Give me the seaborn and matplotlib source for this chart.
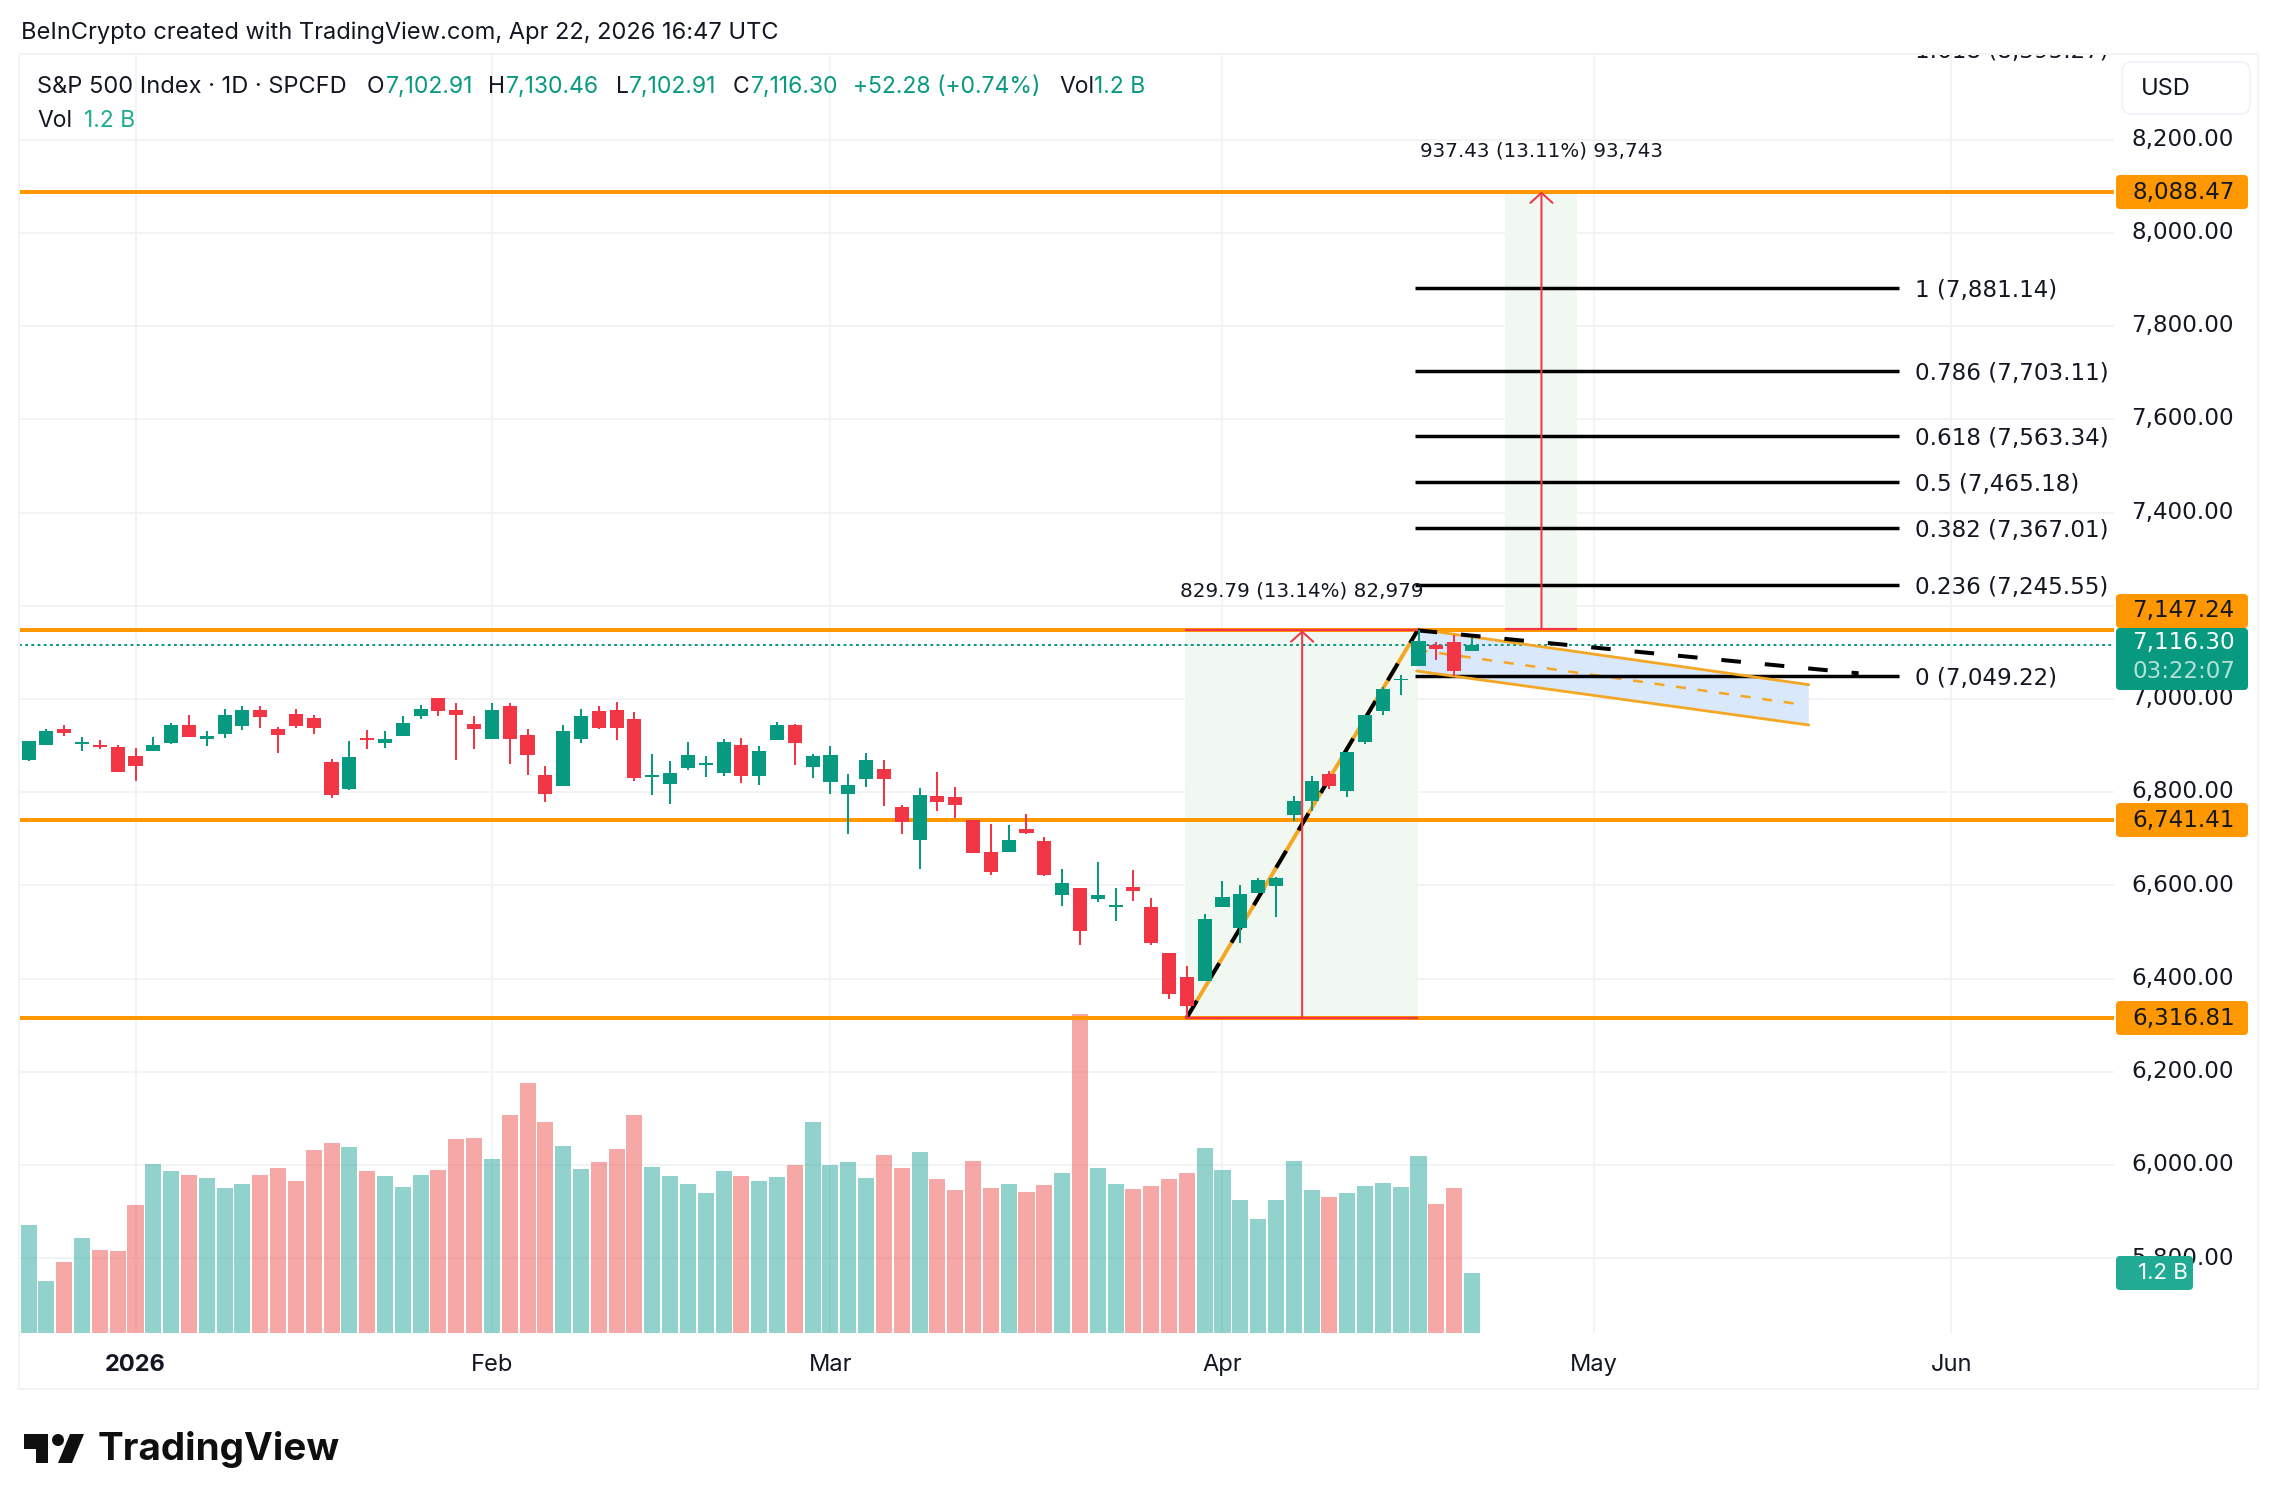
import pandas as pd
import seaborn as sns
import matplotlib.pyplot as plt
from matplotlib.patches import FancyBboxPatch, Polygon, Circle
from matplotlib.transforms import ScaledTranslation

# Daily bars, 82 sessions up to Apr 22 2026
opens = [6869.8, 6901.8, 6935.9, 6903.9, 6901.8, 6897.5, 6878.3, 6889.0, 6906.1, 6944.5, 6914.6,
         6925.3, 6942.4, 6976.5, 6935.9, 6968.0, 6959.4, 6865.5, 6807.8, 6916.7, 6906.1, 6921.0,
         6963.7, 7002.1, 6976.5, 6946.6, 6914.6, 6985.1, 6923.1, 6837.7, 6814.2, 6914.6, 6974.4,
         6976.5, 6957.3, 6833.5, 6818.5, 6852.7, 6859.1, 6842.0, 6901.8, 6835.6, 6912.2, 6944.3,
         6854.4, 6822.3, 6796.7, 6828.8, 6850.2, 6768.8, 6698.2, 6792.4, 6790.2, 6741.0, 6672.5,
         6672.5, 6721.7, 6696.0, 6580.5, 6595.4, 6571.9, 6554.8, 6597.6, 6554.8, 6454.2, 6402.8,
         6394.2, 6554.8, 6509.8, 6584.7, 6599.7, 6751.7, 6781.7, 6839.5, 6803.1, 6908.0, 6974.3,
         7040.0, 7070.7, 7115.0, 7122.1, 7102.91]
highs = [6910.3, 6935.9, 6944.5, 6918.9, 6912.5, 6901.8, 6895.4, 6918.9, 6948.8, 6965.8, 6931.7,
         6978.6, 6985.1, 6985.1, 6940.2, 6978.6, 6965.8, 6871.9, 6910.3, 6933.8, 6931.7, 6963.7,
         6987.2, 7002.1, 6991.5, 6963.7, 6991.5, 6991.5, 6935.9, 6857.0, 6944.5, 6978.6, 6985.1,
         6993.6, 6972.2, 6882.6, 6867.6, 6908.2, 6878.3, 6914.6, 6916.7, 6899.6, 6950.8, 6946.5,
         6882.3, 6899.4, 6839.5, 6884.4, 6869.4, 6773.1, 6809.5, 6843.7, 6811.6, 6741.0, 6732.4,
         6730.3, 6753.8, 6704.6, 6636.1, 6595.4, 6651.1, 6595.4, 6633.9, 6574.0, 6454.2, 6426.3,
         6539.8, 6610.4, 6601.9, 6616.8, 6619.0, 6792.4, 6835.2, 6845.9, 6886.6, 6965.8, 7025.7,
         7051.4, 7147.24, 7122.1, 7137.1, 7130.46]
lows = [6867.6, 6901.8, 6921.0, 6889.0, 6893.2, 6844.1, 6824.9, 6889.0, 6903.9, 6918.9, 6899.6,
        6916.7, 6933.8, 6938.1, 6884.7, 6938.1, 6925.3, 6788.6, 6805.7, 6893.2, 6895.4, 6921.0,
        6957.3, 6963.7, 6869.8, 6893.2, 6914.6, 6861.2, 6837.7, 6780.1, 6814.2, 6906.1, 6935.9,
        6912.5, 6824.9, 6795.0, 6775.8, 6848.4, 6833.5, 6835.6, 6820.6, 6816.4, 6912.2, 6858.7,
        6830.9, 6796.7, 6711.0, 6811.6, 6771.0, 6711.0, 6636.1, 6760.3, 6745.3, 6670.4, 6623.3,
        6672.5, 6711.0, 6621.1, 6556.9, 6473.4, 6565.5, 6524.8, 6567.6, 6473.4, 6355.7, 6317.2,
        6394.2, 6554.8, 6475.6, 6584.7, 6533.4, 6738.9, 6760.0, 6807.4, 6790.2, 6903.7, 6965.8,
        7008.6, 7070.7, 7083.6, 7049.2, 7102.91]
closes = [6910.3, 6931.7, 6927.4, 6908.2, 6897.5, 6844.1, 6857.0, 6901.8, 6944.5, 6918.9, 6921.0,
          6965.8, 6976.5, 6961.6, 6923.1, 6942.4, 6938.1, 6795.0, 6876.2, 6912.5, 6914.6, 6948.8,
          6978.6, 6974.4, 6965.8, 6935.9, 6976.5, 6914.6, 6880.4, 6797.2, 6931.7, 6963.7, 6938.1,
          6938.1, 6831.3, 6837.7, 6842.0, 6880.4, 6863.4, 6908.2, 6835.6, 6889.0, 6944.3, 6905.8,
          6878.0, 6880.1, 6815.9, 6869.4, 6828.8, 6736.7, 6794.5, 6779.5, 6773.1, 6670.4, 6629.7,
          6698.2, 6713.2, 6623.3, 6606.1, 6503.4, 6580.5, 6559.1, 6589.0, 6475.6, 6366.4, 6340.7,
          6529.1, 6576.2, 6582.6, 6612.6, 6616.8, 6781.7, 6824.5, 6813.8, 6886.6, 6965.8, 7021.4,
          7042.9, 7124.3, 7107.1, 7060.0, 7116.30]
# volume in billions
volumes = [2.18, 1.04, 1.42, 1.90, 1.66, 1.64, 2.57, 3.39, 3.25, 3.17, 3.11, 2.91, 2.99, 3.17,
           3.31, 3.05, 3.67, 3.81, 3.73, 3.25, 3.15, 2.93, 3.17, 3.27, 3.89, 3.91, 3.49, 4.38,
           5.02, 4.25, 3.75, 3.29, 3.43, 3.69, 4.39, 3.33, 3.15, 2.99, 2.81, 3.25, 3.15, 3.05,
           3.13, 3.37, 4.25, 3.37, 3.43, 3.11, 3.57, 3.31, 3.63, 3.09, 2.87, 3.45, 2.91, 2.99,
           2.83, 2.97, 3.21, 6.41, 3.31, 2.99, 2.89, 2.95, 3.09, 3.21, 3.71, 3.27, 2.67, 2.29,
           2.67, 3.45, 2.87, 2.73, 2.81, 2.95, 3.01, 2.93, 3.55, 2.59, 2.91, 1.20]

price_ticks = [5800, 6000, 6200, 6400, 6600, 6800, 7000, 7200, 7400, 7600, 7800, 8000, 8200]
date_ticks = [6, 26, 45, 67, 87.85, 107.9]
date_labels = ["2026", "Feb", "Mar", "Apr", "May", "Jun"]
levels = [8088.47, 7147.24, 6741.41, 6316.81]
fib_ratios = ["1.618", "1", "0.786", "0.618", "0.5", "0.382", "0.236", "0"]
fib_prices = [8395.27, 7881.14, 7703.11, 7563.34, 7465.18, 7367.01, 7245.55, 7049.22]
last_price = 7116.30

GREEN = "#089981"
RED = "#F23645"
ORANGE = "#FF9800"
GRID = "#f2f3f5"
TEXT = "#131722"
# DejaVu digits are all one width, like the price labels in the chart
NUM = "DejaVu Sans"

sns.set_theme(style="white")
plt.rcParams["font.family"] = ["Inter", "DejaVu Sans"]

W, H = 2278, 1510
fig = plt.figure(figsize=(W / 100, H / 100), dpi=100, facecolor="white")
rect = [19.4 / W, (H - 1333) / H, (2114 - 19.4) / W, (1333 - 54) / H]
xlim = (-0.516, 117.03)
ylim = (5640.1, 8383.5)

# grid at the bottom, then volume, then prices
grid_ax = fig.add_axes(rect, zorder=0)
vol_ax = fig.add_axes(rect, zorder=1)
ax = fig.add_axes(rect, zorder=2)

grid_ax.set_xlim(xlim)
grid_ax.set_ylim(ylim)
grid_ax.yaxis.tick_right()
# 7,200.00 sits fully behind the 7,147.24 tag
grid_ax.set_yticks(price_ticks, ["" if p == 7200 else f"{p:,.2f}" for p in price_ticks],
                   family=NUM)
grid_ax.set_xticks(date_ticks, date_labels)
grid_ax.tick_params(axis="y", length=0, pad=12.5, labelsize=16.6, labelcolor=TEXT)
grid_ax.tick_params(axis="x", length=0, pad=15, labelsize=17, labelcolor=TEXT)
grid_ax.get_xticklabels()[0].set_fontweight("bold")
grid_ax.grid(True, color=GRID, lw=1.44)
sns.despine(ax=grid_ax, left=True, bottom=True, right=True, top=True)
# price labels sit a little above their grid line
nudge = ScaledTranslation(0, 2 / 72, fig.dpi_scale_trans)
for label in grid_ax.get_yticklabels():
    label.set_transform(label.get_transform() + nudge)

df = pd.DataFrame({"idx": range(len(volumes)), "volume": volumes, "open": opens,
                   "high": highs, "low": lows, "close": closes})
df["up"] = df["close"] >= df["open"]

sns.barplot(data=df, x="idx", y="volume", hue="up", palette={True: "#26a69a", False: "#ef5350"},
            native_scale=True, dodge=False, width=0.9, saturation=1, alpha=0.5, linewidth=0,
            legend=False, ax=vol_ax)
vol_ax.set_xlim(xlim)
vol_ax.set_ylim(0, 25.71)
vol_ax.axis("off")

ax.set_xlim(xlim)
ax.set_ylim(ylim)
ax.axis("off")

# measure boxes
ax.axvspan(64.9, 77.95, ymin=(6316.81 - ylim[0]) / (ylim[1] - ylim[0]),
           ymax=(7147.24 - ylim[0]) / (ylim[1] - ylim[0]), color="#f1f8f1", lw=0, zorder=0.5)
ax.axvspan(82.85, 86.9, ymin=(7150 - ylim[0]) / (ylim[1] - ylim[0]),
           ymax=(8088.47 - ylim[0]) / (ylim[1] - ylim[0]), color="#f1f8f1", lw=0, zorder=0.5)

# bull flag channel
ax.add_patch(Polygon([(77.95, 7150), (99.9, 7030.7), (99.9, 6944.2), (77.9, 7060)],
                     closed=True, facecolor="#d9e8fa", edgecolor="none", zorder=0.6))

for p in levels:
    ax.axhline(p, color=ORANGE, lw=2.88, solid_capstyle="butt", zorder=1)
ax.axhline(last_price, color=GREEN, lw=1.44, ls=(0, (1.4, 1.7)), zorder=1.1)

ax.hlines(fib_prices, 77.8, 104.96, color="black", lw=2.5, zorder=1.5)

ax.plot([77.95, 99.9], [7150, 7030.7], color="#F5A623", lw=2, zorder=1.6)
ax.plot([77.9, 99.9], [7060, 6944.2], color="#F5A623", lw=2, zorder=1.6)
ax.plot([77.95, 99.3], [7105, 6989.3], color="#F5A623", lw=1.8, ls=(0, (4.0, 4.7)), zorder=1.4)

ax.plot([65, 77.95], [6316.81, 7147.24], color="#F5A623", lw=2.8, zorder=1.7)
for xs, ys in [([65, 77.95], [6316.81, 7147.24]), ([77.95, 102.7], [7147.24, 7055.1])]:
    ax.plot(xs, ys, color="black", lw=2.88, ls=(0, (4.9, 6.0)), dash_capstyle="butt", zorder=1.8)

# measure borders and arrows
ax.hlines([6316.81, 7147.24], 64.9, 77.95, color=RED, lw=1.6, zorder=1.9)
ax.hlines([7150], 82.85, 86.9, color=RED, lw=1.6, zorder=1.9)
arrow = dict(arrowstyle="->,head_length=7.2,head_width=8", color=RED, lw=1.44, shrinkA=0,
             shrinkB=0, mutation_scale=1)
ax.annotate("", xy=(71.47, 7147.24), xytext=(71.47, 6316.81), arrowprops=arrow, zorder=1.9)
ax.annotate("", xy=(84.9, 8088.47), xytext=(84.9, 7150), arrowprops=arrow, zorder=1.9)

# candles
colors = [GREEN if u else RED for u in df["up"]]
ax.vlines(df["idx"], df["low"], df["high"], color=colors, lw=1.44, zorder=3)
ax.bar(df["idx"], (df["close"] - df["open"]).abs().clip(lower=3), bottom=df[["open", "close"]].min(axis=1),
       width=0.79, color=colors, lw=0, zorder=3.1)

# fib labels, the top one gets cut by the pane edge
for ratio, p in zip(fib_ratios, fib_prices):
    ax.text(105.86, p, f"{ratio} ({p:,.2f})", fontsize=16.6, family=NUM, color=TEXT,
            va="center_baseline", ha="left", clip_on=True, zorder=4)

ax.text(71.47, 7232, "829.79 (13.14%) 82,979", fontsize=14.3, family=NUM, color=TEXT,
        ha="center", va="center", zorder=4)
ax.text(84.9, 8176, "937.43 (13.11%) 93,743", fontsize=14.3, family=NUM, color=TEXT,
        ha="center", va="center", zorder=4)

# everything outside the panes is placed in pixels
top = fig.add_axes([0, 0, 1, 1], zorder=3)
top.set_xlim(0, W)
top.set_ylim(H, 0)
top.axis("off")
top.patch.set_alpha(0)

top.plot([19.4, 19.4, 2258, 2258, 19.4], [1389, 54, 54, 1389, 1389], color=GRID, lw=1.44, zorder=0)


def label_box(y0, y1, color):
    top.add_patch(FancyBboxPatch((2116, y0), 132, y1 - y0, boxstyle="round,pad=0,rounding_size=4",
                                 facecolor=color, edgecolor="none", zorder=1))


for y0, y1, s in [(175, 209, "8,088.47"), (594, 628, "7,147.24"), (803, 837, "6,741.41"), (1001, 1035, "6,316.81")]:
    label_box(y0, y1, ORANGE)
    top.text(2132, (y0 + y1) / 2, s, fontsize=16.6, family=NUM, color=TEXT, va="center", zorder=2)

label_box(628, 690, GREEN)
top.text(2132, 643, "7,116.30", fontsize=16.6, family=NUM, color="white", va="center", zorder=2)
top.text(2132, 672, "03:22:07", fontsize=16.6, family=NUM, color="#b5e0d8", va="center", zorder=2)

top.add_patch(FancyBboxPatch((2116, 1256), 77, 34, boxstyle="round,pad=0,rounding_size=4",
                             facecolor="#22ab94", edgecolor="none", zorder=1))
top.text(2138, 1273, "1.2 B", fontsize=16, color="white", va="center", zorder=2)

top.add_patch(FancyBboxPatch((2122, 62), 128, 52, boxstyle="round,pad=0,rounding_size=10",
                             facecolor="white", edgecolor="#f0f3fa", lw=1.4, zorder=1))
top.text(2141, 89, "USD", fontsize=17, color=TEXT, va="center", zorder=2)

# header
top.text(21, 33, "BeInCrypto created with TradingView.com, Apr 22, 2026 16:47 UTC", fontsize=17,
         color=TEXT, va="center")
top.text(37, 87, "S&P 500 Index · 1D · SPCFD", fontsize=17, color=TEXT, va="center")
for x, s, c in [(367, "O", TEXT), (386, "7,102.91", GREEN),
                (488, "H", TEXT), (506, "7,130.46", GREEN), (616, "L", TEXT), (629, "7,102.91", GREEN),
                (733, "C", TEXT), (751, "7,116.30", GREEN), (853, "+52.28 (+0.74%)", GREEN),
                (1059, "Vol", TEXT), (1094, "1.2 B", GREEN)]:
    top.text(x, 87, s, fontsize=16.5, color=c, va="center")
top.text(37, 121, "Vol", fontsize=16.5, color=TEXT, va="center")
top.text(84, 121, "1.2 B", fontsize=16.5, color="#22ab94", va="center")

# logo
LOGO = "#0f0f0f"
top.add_patch(Polygon([(24, 1434), (48, 1434), (48, 1463), (36, 1463), (36, 1449), (24, 1449)], color=LOGO, lw=0))
top.add_patch(Circle((58, 1440), 6, color=LOGO, lw=0))
top.add_patch(Polygon([(70, 1434), (84, 1434), (72, 1463), (58, 1463)], color=LOGO, lw=0))
top.text(98, 1450, "TradingView", fontsize=27.8, fontweight="bold", color=LOGO, va="center")

fig.savefig("out.png", dpi=100)
